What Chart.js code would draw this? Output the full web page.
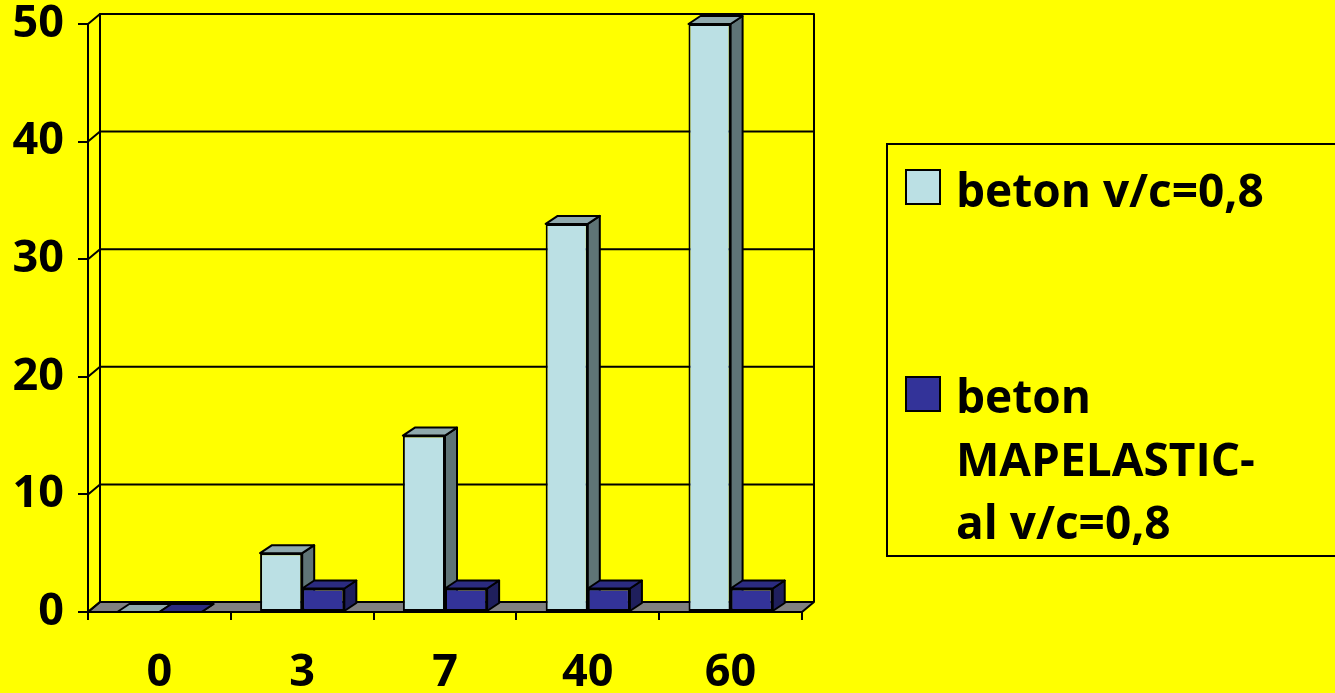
<!DOCTYPE html>
<html>
<head>
    <meta charset="utf-8" />
    <title>beton v/c=0,8</title>
    <script src="https://cdn.jsdelivr.net/npm/chart.js"></script>
    <style>
        html, body {
            margin: 0;
            padding: 0;
            background: #ffff00;
        }
        #wrap {
            width: 1335px;
            height: 693px;
        }
    </style>
</head>
<body>
    <div id="wrap"><canvas id="grafico"></canvas></div>
    <script>
        const categorias = ["0", "3", "7", "40", "60"];
        const betonVC = [0, 5, 15, 33, 50];
        const betonMapelastic = [0, 2, 2, 2, 2];
        const ticksY = [0, 10, 20, 30, 40, 50];

        const leyenda1 = ["beton v/c=0,8"];
        const leyenda2 = ["beton", "MAPELASTIC-", "al v/c=0,8"];

        const frente = ["#bbe0e4", "#333399"];
        const arriba = ["#8fa9ad", "#2b2b80"];
        const lado = ["#5f7476", "#1f1f5c"];

        const fuente = '"Open Sans", "DejaVu Sans", sans-serif';

        // efecto 3D: paredes y caras laterales de las barras
        const efecto3d = {
            id: "efecto3d",
            beforeDatasetsDraw(chart) {
                const { ctx, chartArea: a, scales: { y } } = chart;
                const wx = 12, wy = -10, bx = 12, by = -8;
                ctx.save();
                ctx.lineWidth = 2;
                ctx.strokeStyle = "#000";
                ctx.lineJoin = "round";

                // piso
                ctx.fillStyle = "#808080";
                ctx.beginPath();
                ctx.moveTo(a.left, a.bottom);
                ctx.lineTo(a.right, a.bottom);
                ctx.lineTo(a.right + wx, a.bottom + wy);
                ctx.lineTo(a.left + wx, a.bottom + wy);
                ctx.closePath();
                ctx.fill();
                ctx.stroke();

                // pared del fondo
                ctx.beginPath();
                ctx.moveTo(a.left + wx, a.bottom + wy);
                ctx.lineTo(a.left + wx, a.top + wy);
                ctx.lineTo(a.right + wx, a.top + wy);
                ctx.lineTo(a.right + wx, a.bottom + wy);
                ctx.stroke();

                ticksY.forEach(v => {
                    const py = y.getPixelForValue(v);
                    ctx.beginPath();
                    ctx.moveTo(a.left, py);
                    ctx.lineTo(a.left + wx, py + wy);
                    if (v > 0) ctx.lineTo(a.right + wx, py + wy);
                    ctx.stroke();
                });

                // caras de las barras
                chart.data.datasets.forEach((ds, i) => {
                    chart.getDatasetMeta(i).data.forEach(bar => {
                        const p = bar.getProps(["x", "y", "base", "width"], true);
                        const x0 = p.x - p.width / 2, x1 = p.x + p.width / 2;
                        ctx.fillStyle = lado[i];
                        ctx.beginPath();
                        ctx.moveTo(x1, p.y);
                        ctx.lineTo(x1 + bx, p.y + by);
                        ctx.lineTo(x1 + bx, p.base + by);
                        ctx.lineTo(x1, p.base);
                        ctx.closePath();
                        ctx.fill();
                        ctx.stroke();
                        ctx.fillStyle = arriba[i];
                        ctx.beginPath();
                        ctx.moveTo(x0, p.y);
                        ctx.lineTo(x1, p.y);
                        ctx.lineTo(x1 + bx, p.y + by);
                        ctx.lineTo(x0 + bx, p.y + by);
                        ctx.closePath();
                        ctx.fill();
                        ctx.stroke();
                    });
                });
                ctx.restore();
            },
            afterDraw(chart) {
                const { ctx } = chart;
                ctx.save();
                ctx.lineWidth = 2;
                ctx.strokeStyle = "#000";
                ctx.strokeRect(887, 144, 470, 412);

                ctx.font = "bold 46px " + fuente;
                ctx.fillStyle = "#000";
                ctx.textBaseline = "alphabetic";
                const grupos = [[leyenda1, 170, 207], [leyenda2, 377, 413]];
                grupos.forEach(([lineas, yCaja, yTexto], i) => {
                    ctx.fillStyle = frente[i];
                    ctx.fillRect(906, yCaja, 34, 34);
                    ctx.strokeRect(906, yCaja, 34, 34);
                    ctx.fillStyle = "#000";
                    lineas.forEach((t, j) => ctx.fillText(t, 956, yTexto + j * 63));
                });
                ctx.restore();
            }
        };

        new Chart(document.getElementById("grafico"), {
            type: "bar",
            data: {
                labels: categorias,
                datasets: [
                    {
                        label: leyenda1.join(" "),
                        data: betonVC,
                        backgroundColor: frente[0],
                        borderColor: "#000",
                        borderWidth: 2,
                        borderSkipped: false
                    },
                    {
                        label: leyenda2.join(" "),
                        data: betonMapelastic,
                        backgroundColor: frente[1],
                        borderColor: "#000",
                        borderWidth: 2,
                        borderSkipped: false
                    }
                ]
            },
            options: {
                responsive: true,
                maintainAspectRatio: false,
                animation: false,
                layout: { padding: { top: 24, right: 533, left: 0, bottom: 0 } },
                datasets: {
                    bar: { categoryPercentage: 0.59, barPercentage: 1 }
                },
                plugins: {
                    legend: { display: false },
                    tooltip: { enabled: false }
                },
                scales: {
                    x: {
                        afterFit: s => { s.height = 81; },
                        grid: {
                            drawOnChartArea: false,
                            tickLength: 8,
                            color: "#000",
                            lineWidth: 2
                        },
                        border: { display: true, color: "#000", width: 2 },
                        ticks: {
                            color: "#000",
                            padding: 26,
                            font: { family: fuente, size: 45, weight: "bold" }
                        }
                    },
                    y: {
                        min: 0,
                        max: 50,
                        afterFit: s => { s.width = 88; s.paddingTop = 0; s.paddingBottom = 0; },
                        grid: {
                            drawOnChartArea: false,
                            tickLength: 10,
                            color: "#000",
                            lineWidth: 2
                        },
                        border: { display: true, color: "#000", width: 2 },
                        ticks: {
                            stepSize: 10,
                            color: "#000",
                            padding: 14,
                            font: { family: fuente, size: 45, weight: "bold" }
                        }
                    }
                }
            },
            plugins: [efecto3d]
        });
    </script>
</body>
</html>
